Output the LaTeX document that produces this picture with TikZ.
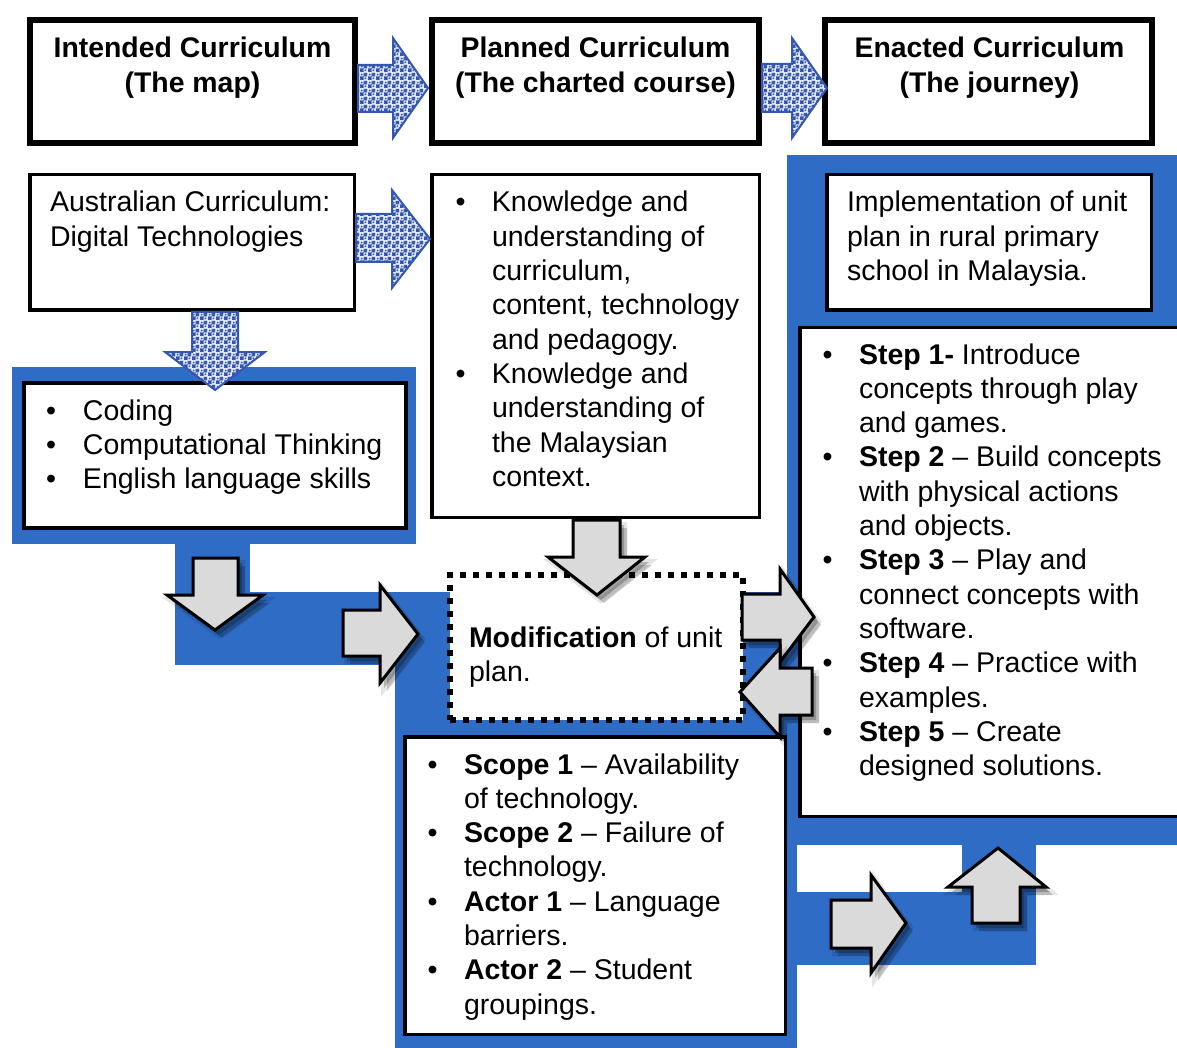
\documentclass[tikz,border=0pt]{standalone}
\usepackage{fontspec}
\setmainfont{Liberation Sans}
\usetikzlibrary{shadows,patterns}
\definecolor{regblue}{RGB}{46,108,197}
\definecolor{patblue}{RGB}{52,88,178}
\definecolor{patback}{RGB}{226,232,246}
\definecolor{arrgray}{RGB}{218,218,218}
\pgfdeclarepatternformonly{bluechk}{\pgfpointorigin}{\pgfpoint{8pt}{8pt}}{\pgfpoint{8pt}{8pt}}{%
  \pgfpathrectangle{\pgfpointorigin}{\pgfpoint{4pt}{4pt}}%
  \pgfpathrectangle{\pgfpoint{4pt}{4pt}}{\pgfpoint{4pt}{4pt}}%
  \pgfpathcircle{\pgfpoint{6pt}{2pt}}{1.1pt}%
  \pgfpathcircle{\pgfpoint{2pt}{6pt}}{1.1pt}%
  \pgfusepath{fill}}
\newcommand{\bt}{\textbullet}
\tikzset{
  heavybox/.style={draw=black, line width=6pt, fill=white, inner sep=0pt, rectangle},
  thinbox/.style={draw=black, line width=3.5pt, fill=white, inner sep=0pt, rectangle},
  dotbox/.style={draw=black, line width=6pt, dash pattern=on 6pt off 7pt, fill=white, inner sep=0pt, rectangle},
  txt/.style={inner sep=0pt, outer sep=0pt, anchor=base west, font=\fontsize{28.5}{34.3}\selectfont},
  htxt/.style={inner sep=0pt, outer sep=0pt, anchor=base, font=\fontsize{28.4}{34.6}\selectfont\bfseries},
  region/.style={fill=regblue, draw=none},
  patarrow/.style={preaction={fill=patback}, pattern=bluechk, pattern color=patblue, draw=patblue, line width=2pt, line join=miter},
  softshadow/.style={
    preaction={fill=black, fill opacity=0.22, draw=black, draw opacity=0.10, line width=6pt, transform canvas={xshift=4pt, yshift=-5pt}},
    preaction={fill=black, fill opacity=0.18, transform canvas={xshift=7pt, yshift=-8pt}}},
  grayarrow/.style={softshadow, fill=arrgray, draw=black, line width=3pt, line join=miter},
}
\begin{document}
\begin{tikzpicture}[x=1pt, y=-1pt]
\useasboundingbox (0,0) rectangle (1177,1048);
\clip (0,0) rectangle (1177,1048);
\fill[white] (0,0) rectangle (1177,1048);

% blue regions
\path[region] (12,367) rectangle (416,544);
\path[region] (175,544) rectangle (250,665);
\path[region] (175,592) rectangle (447,665);
\path[region] (395,592) rectangle (797,1048);
\path[region] (787,155) rectangle (1177,845);
\path[region] (797,892) rectangle (1036,965);
\path[region] (962,845) rectangle (1036,965);

% top headings
\node[heavybox, minimum width=325pt, minimum height=123pt] (int) at (192.5,81.5) {};
\node[heavybox, minimum width=327pt, minimum height=123pt] (pla) at (595.5,81.5) {};
\node[heavybox, minimum width=327pt, minimum height=123pt] (ena) at (988.5,81.5) {};
\node[htxt] (intT) at (192.5,58) {\begin{tabular}[t]{@{}c@{}}Intended Curriculum\\(The map)\end{tabular}};
\node[htxt] (plaT) at (595.5,58) {\begin{tabular}[t]{@{}c@{}}Planned Curriculum\\(The charted course)\end{tabular}};
\node[htxt] (enaT) at (989.5,58) {\begin{tabular}[t]{@{}c@{}}Enacted Curriculum\\(The journey)\end{tabular}};

% second row
\node[thinbox, minimum width=324.5pt, minimum height=135.5pt] (aus) at (192,242.5) {};
\node[thinbox, minimum width=327.5pt, minimum height=342.5pt] (kno) at (595.5,346) {};
\node[thinbox, minimum width=324.5pt, minimum height=135.5pt] (imp) at (989,242.5) {};
\node[thinbox, line width=4pt, minimum width=382pt, minimum height=145pt] (cod) at (215,455.5) {};
\node[thinbox, minimum width=400pt, minimum height=489pt] (ste) at (1000,572) {};
\node[thinbox, minimum width=380.5pt, minimum height=297.5pt] (sco) at (595,885.5) {};
\node[dotbox, minimum width=293pt, minimum height=145pt] (mod) at (596.5,647.5) {};

\node[txt] (ausT) at (50,212) {\begin{tabular}[t]{@{}l@{}}Australian Curriculum:\\Digital Technologies\end{tabular}};
\node[txt] (impT) at (847,212) {\begin{tabular}[t]{@{}l@{}}Implementation of unit\\plan in rural primary\\school in Malaysia.\end{tabular}};
\node[txt] (knoT) at (455.5,212) {\begin{tabular}[t]{@{}p{36.5pt}@{}l@{}}
\bt & Knowledge and\\ & understanding of\\ & curriculum,\\ & content, technology\\ & and pedagogy.\\
\bt & Knowledge and\\ & understanding of\\ & the Malaysian\\ & context.\end{tabular}};
\node[txt] (codT) at (46,420) {\begin{tabular}[t]{@{}p{37pt}@{}l@{}}
\bt & Coding\\ \bt & Computational Thinking\\ \bt & English language skills\end{tabular}};
\node[txt] (steT) at (822.5,364) {\begin{tabular}[t]{@{}p{36.5pt}@{}l@{}}
\bt & \textbf{Step 1-} Introduce\\ & concepts through play\\ & and games.\\
\bt & \textbf{Step 2} -- Build concepts\\ & with physical actions\\ & and objects.\\
\bt & \textbf{Step 3} -- Play and\\ & connect concepts with\\ & software.\\
\bt & \textbf{Step 4} -- Practice with\\ & examples.\\
\bt & \textbf{Step 5} -- Create\\ & designed solutions.\end{tabular}};
\node[txt] (modT) at (469,647) {\begin{tabular}[t]{@{}l@{}}\textbf{Modification} of unit\\plan.\end{tabular}};
\node[txt] (scoT) at (427.5,774) {\begin{tabular}[t]{@{}p{36.5pt}@{}l@{}}
\bt & \textbf{Scope 1} -- Availability\\ & of technology.\\
\bt & \textbf{Scope 2} -- Failure of\\ & technology.\\
\bt & \textbf{Actor 1} -- Language\\ & barriers.\\
\bt & \textbf{Actor 2} -- Student\\ & groupings.\end{tabular}};

% patterned arrows
\path[patarrow] (358,65) -- (393,65) -- (393,38) -- (428,88) -- (393,138) -- (393,112) -- (358,112) -- cycle;
\path[patarrow] (762,64) -- (792,64) -- (792,38) -- (827,88) -- (792,138) -- (792,112) -- (762,112) -- cycle;
\path[patarrow] (356,214) -- (392,214) -- (392,190) -- (430,239) -- (392,288) -- (392,262) -- (356,262) -- cycle;
\path[patarrow] (192,312) -- (238,312) -- (238,352) -- (265,352) -- (215,390) -- (165,352) -- (192,352) -- cycle;

% gray arrows
\path[grayarrow] (193,558) -- (238,558) -- (238,595) -- (263,595) -- (215,630) -- (167,595) -- (193,595) -- cycle;
\path[grayarrow] (343,610) -- (380,610) -- (380,585) -- (418,634) -- (380,683) -- (380,656) -- (343,656) -- cycle;
\path[grayarrow] (573,520) -- (620,520) -- (620,557) -- (645,557) -- (597,595) -- (548,557) -- (573,557) -- cycle;
\path[grayarrow] (742,594) -- (780,594) -- (780,569) -- (814,617) -- (780,662) -- (780,640) -- (742,640) -- cycle;
\path[grayarrow] (812,668) -- (780,668) -- (780,648) -- (740,692) -- (780,737) -- (780,715) -- (812,715) -- cycle;
\path[grayarrow] (831,900) -- (871,900) -- (871,875) -- (906,923) -- (871,973) -- (871,948) -- (831,948) -- cycle;
\path[grayarrow] (972,923) -- (972,887) -- (948,887) -- (998,848) -- (1046,887) -- (1020,887) -- (1020,923) -- cycle;
\end{tikzpicture}
\end{document}
